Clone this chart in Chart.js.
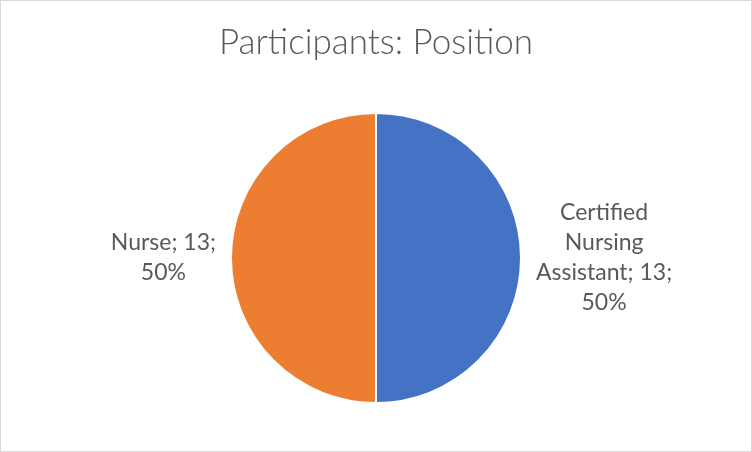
<!DOCTYPE html>
<html>
<head>
<meta charset="utf-8">
<script src="https://cdn.jsdelivr.net/npm/chart.js@4"></script>
<style>
  html, body { margin: 0; padding: 0; background: #ffffff; }
  #wrap { width: 750px; height: 450px; border: 1px solid #d9d9d9; background: #fff; position: relative; }
  canvas { display: block; }
</style>
</head>
<body>
<div id="wrap"><canvas id="c" width="750" height="450"></canvas></div>
<script>
const chartTitle = 'Participants: Position';
const categories = ['Certified Nursing Assistant', 'Nurse'];
const counts = [13, 13];
const sliceColors = ['#4472C4', '#ED7D31'];
// how each data label is broken into lines (as in the reference)
const labelBreaks = [
  ['Certified', 'Nursing', 'Assistant; 13;', '50%'],
  ['Nurse; 13;', '50%']
];

const FONT = 'Lato, "Open Sans", sans-serif';

const titlePlugin = {
  id: 'xlTitle',
  afterDraw(chart) {
    const ctx = chart.ctx;
    ctx.save();
    ctx.fillStyle = '#595959';
    ctx.font = '300 35px ' + FONT;
    ctx.textAlign = 'center';
    ctx.textBaseline = 'middle';
    ctx.fillText(chartTitle, chart.width / 2, 42);
    ctx.restore();
  }
};

const labelPlugin = {
  id: 'xlLabels',
  afterDatasetsDraw(chart) {
    const ctx = chart.ctx;
    const meta = chart.getDatasetMeta(0);
    const lineH = 30;
    ctx.save();
    ctx.fillStyle = '#595959';
    ctx.font = '23px ' + FONT;
    ctx.textAlign = 'center';
    ctx.textBaseline = 'middle';
    meta.data.forEach((arc, i) => {
      const p = arc.getProps(['x', 'y', 'startAngle', 'endAngle', 'outerRadius'], true);
      const mid = (p.startAngle + p.endAngle) / 2;
      const r = p.outerRadius + 15;
      const ax = p.x + Math.cos(mid) * r;
      const ay = p.y + Math.sin(mid) * r;
      const lines = labelBreaks[i];
      const w = Math.max(...lines.map(l => ctx.measureText(l).width));
      const cx = Math.cos(mid) >= 0 ? ax + w / 2 : ax - w / 2;
      const top = ay - (lines.length - 1) * lineH / 2;
      lines.forEach((l, k) => ctx.fillText(l, cx, top + k * lineH));
    });
    ctx.restore();
  }
};

new Chart(document.getElementById('c'), {
  type: 'pie',
  data: {
    labels: categories,
    datasets: [{
      data: counts,
      backgroundColor: sliceColors,
      borderColor: '#ffffff',
      borderWidth: 2,
      hoverOffset: 0
    }]
  },
  options: {
    responsive: false,
    animation: false,
    layout: { padding: { top: 111, bottom: 47, left: 0, right: 0 } },
    plugins: {
      legend: { display: false },
      title: { display: false },
      tooltip: { enabled: false }
    }
  },
  plugins: [titlePlugin, labelPlugin]
});
</script>
</body>
</html>
